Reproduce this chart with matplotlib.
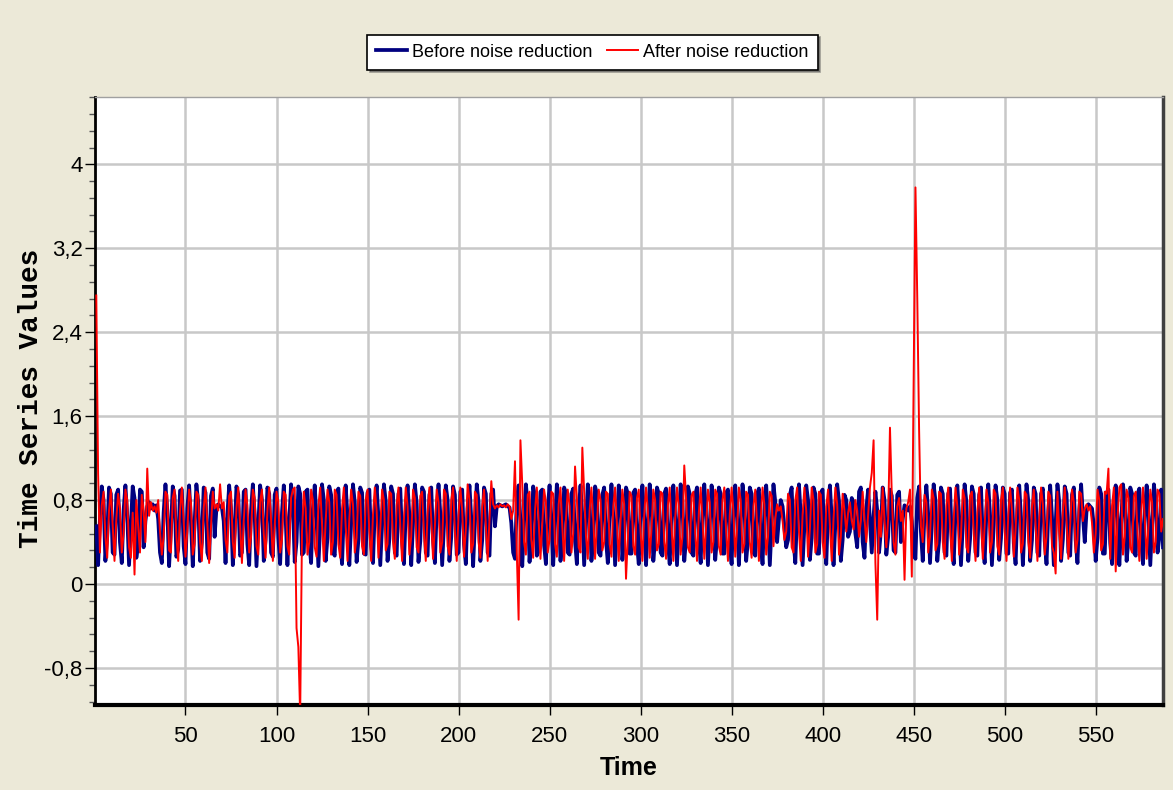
import numpy as np
import matplotlib
matplotlib.use('Agg')
import matplotlib.pyplot as plt
from matplotlib.ticker import MultipleLocator, FuncFormatter, AutoMinorLocator

## data (t = 1..587)
before = [
    0.55, 0.18, 0.62, 0.93, 0.80, 0.22, 0.45, 0.92, 0.86, 0.30,
    0.28, 0.85, 0.90, 0.40, 0.20, 0.70, 0.94, 0.65, 0.18, 0.55,
    0.93, 0.82, 0.25, 0.38, 0.90, 0.88, 0.35, 0.60, 0.74, 0.78,
    0.72, 0.76, 0.70, 0.75, 0.62, 0.30, 0.20, 0.68, 0.95, 0.70,
    0.17, 0.52, 0.93, 0.84, 0.26, 0.33, 0.89, 0.90, 0.36, 0.19,
    0.72, 0.94, 0.60, 0.17, 0.58, 0.95, 0.78, 0.22, 0.40, 0.92,
    0.87, 0.30, 0.24, 0.84, 0.91, 0.45, 0.72, 0.76, 0.74, 0.73,
    0.60, 0.20, 0.66, 0.94, 0.72, 0.18, 0.50, 0.93, 0.85, 0.27,
    0.30, 0.88, 0.90, 0.38, 0.18, 0.70, 0.95, 0.66, 0.17, 0.56,
    0.94, 0.80, 0.22, 0.42, 0.92, 0.86, 0.30, 0.26, 0.85, 0.91,
    0.44, 0.19, 0.68, 0.94, 0.64, 0.18, 0.60, 0.95, 0.76, 0.21,
    0.40, 0.93, 0.86, 0.28, 0.30, 0.88, 0.90, 0.40, 0.20, 0.72,
    0.94, 0.62, 0.17, 0.56, 0.95, 0.80, 0.22, 0.44, 0.93, 0.85,
    0.30, 0.27, 0.86, 0.91, 0.42, 0.19, 0.70, 0.94, 0.64, 0.18,
    0.58, 0.95, 0.78, 0.21, 0.42, 0.92, 0.87, 0.29, 0.28, 0.87,
    0.90, 0.38, 0.20, 0.71, 0.94, 0.63, 0.18, 0.57, 0.95, 0.79,
    0.22, 0.43, 0.93, 0.86, 0.30, 0.27, 0.86, 0.91, 0.41, 0.19,
    0.69, 0.94, 0.65, 0.18, 0.58, 0.95, 0.77, 0.21, 0.41, 0.92,
    0.88, 0.30, 0.27, 0.85, 0.92, 0.42, 0.20, 0.70, 0.95, 0.66,
    0.18, 0.55, 0.94, 0.80, 0.22, 0.45, 0.93, 0.85, 0.28, 0.30,
    0.88, 0.90, 0.38, 0.19, 0.72, 0.94, 0.62, 0.17, 0.58, 0.95,
    0.78, 0.22, 0.42, 0.92, 0.86, 0.30, 0.27, 0.86, 0.90, 0.55,
    0.74, 0.76, 0.75, 0.74, 0.75, 0.76, 0.74, 0.73, 0.58, 0.30,
    0.24, 0.80, 0.94, 0.60, 0.17, 0.60, 0.95, 0.76, 0.21, 0.45,
    0.93, 0.84, 0.27, 0.32, 0.88, 0.90, 0.37, 0.19, 0.72, 0.94,
    0.62, 0.18, 0.58, 0.95, 0.79, 0.22, 0.42, 0.92, 0.87, 0.30,
    0.28, 0.86, 0.91, 0.41, 0.19, 0.70, 0.94, 0.64, 0.18, 0.57,
    0.95, 0.78, 0.22, 0.43, 0.93, 0.86, 0.30, 0.27, 0.85, 0.92,
    0.42, 0.20, 0.70, 0.95, 0.65, 0.18, 0.57, 0.94, 0.80, 0.23,
    0.44, 0.92, 0.86, 0.29, 0.29, 0.87, 0.90, 0.39, 0.19, 0.71,
    0.94, 0.63, 0.18, 0.58, 0.95, 0.79, 0.22, 0.42, 0.92, 0.86,
    0.30, 0.27, 0.86, 0.91, 0.41, 0.19, 0.70, 0.94, 0.64, 0.18,
    0.57, 0.95, 0.78, 0.22, 0.43, 0.93, 0.86, 0.30, 0.27, 0.85,
    0.92, 0.42, 0.20, 0.70, 0.95, 0.65, 0.18, 0.56, 0.94, 0.80,
    0.23, 0.44, 0.92, 0.86, 0.29, 0.29, 0.87, 0.90, 0.39, 0.19,
    0.71, 0.94, 0.63, 0.18, 0.58, 0.95, 0.79, 0.22, 0.42, 0.92,
    0.86, 0.30, 0.27, 0.86, 0.91, 0.41, 0.19, 0.70, 0.94, 0.64,
    0.18, 0.57, 0.95, 0.78, 0.40, 0.62, 0.80, 0.74, 0.55, 0.35,
    0.42, 0.85, 0.92, 0.42, 0.20, 0.70, 0.95, 0.65, 0.18, 0.56,
    0.94, 0.80, 0.23, 0.44, 0.92, 0.86, 0.29, 0.29, 0.87, 0.90,
    0.39, 0.19, 0.71, 0.94, 0.63, 0.18, 0.58, 0.95, 0.79, 0.22,
    0.42, 0.85, 0.80, 0.45, 0.50, 0.82, 0.78, 0.48, 0.35, 0.88,
    0.92, 0.40, 0.25, 0.72, 0.90, 0.60, 0.30, 0.65, 0.88, 0.70,
    0.30, 0.50, 0.92, 0.80, 0.28, 0.45, 0.90, 0.84, 0.32, 0.30,
    0.85, 0.88, 0.40, 0.62, 0.75, 0.72, 0.70, 0.74, 0.60, 0.30,
    0.24, 0.82, 0.93, 0.50, 0.22, 0.70, 0.94, 0.66, 0.20, 0.58,
    0.95, 0.79, 0.22, 0.42, 0.92, 0.86, 0.30, 0.27, 0.86, 0.91,
    0.41, 0.19, 0.70, 0.94, 0.64, 0.18, 0.57, 0.95, 0.78, 0.22,
    0.43, 0.93, 0.86, 0.30, 0.27, 0.85, 0.92, 0.42, 0.20, 0.70,
    0.95, 0.65, 0.18, 0.56, 0.94, 0.80, 0.23, 0.44, 0.92, 0.86,
    0.29, 0.29, 0.87, 0.90, 0.39, 0.19, 0.71, 0.94, 0.63, 0.18,
    0.58, 0.95, 0.79, 0.22, 0.42, 0.92, 0.86, 0.30, 0.27, 0.86,
    0.91, 0.41, 0.19, 0.70, 0.94, 0.64, 0.18, 0.57, 0.95, 0.78,
    0.22, 0.43, 0.93, 0.86, 0.30, 0.27, 0.85, 0.92, 0.42, 0.20,
    0.70, 0.95, 0.65, 0.40, 0.70, 0.76, 0.74, 0.72, 0.55, 0.22,
    0.44, 0.92, 0.86, 0.29, 0.29, 0.87, 0.90, 0.39, 0.19, 0.71,
    0.94, 0.63, 0.18, 0.58, 0.95, 0.79, 0.22, 0.42, 0.92, 0.86,
    0.30, 0.27, 0.86, 0.91, 0.41, 0.19, 0.70, 0.94, 0.64, 0.18,
    0.57, 0.95, 0.78, 0.30, 0.45, 0.90, 0.35,
]

after = [
    2.75, 1.05, 0.30, 0.75, 0.88, 0.45, 0.25, 0.70, 0.90, 0.55,
    0.22, 0.62, 0.86, 0.72, 0.30, 0.48, 0.90, 0.80, 0.35, 0.25,
    0.68, 0.09, 0.80, 0.55, 0.30, 0.85, 0.70, 0.40, 1.10, 0.65,
    0.78, 0.70, 0.74, 0.68, 0.80, 0.50, 0.28, 0.45, 0.88, 0.85,
    0.32, 0.30, 0.82, 0.90, 0.45, 0.22, 0.70, 0.92, 0.60, 0.26,
    0.50, 0.90, 0.78, 0.28, 0.38, 0.88, 0.85, 0.40, 0.22, 0.72,
    0.92, 0.58, 0.20, 0.55, 0.88, 0.72, 0.76, 0.70, 0.95, 0.72,
    0.78, 0.42, 0.30, 0.84, 0.88, 0.40, 0.25, 0.72, 0.92, 0.55,
    0.20, 0.60, 0.90, 0.75, 0.30, 0.45, 0.90, 0.82, 0.36, 0.28,
    0.78, 0.90, 0.48, 0.25, 0.70, 0.92, 0.62, 0.22, 0.55, 0.88,
    0.78, 0.30, 0.42, 0.88, 0.85, 0.36, 0.28, 0.82, 0.90, 0.92,
    -0.42, -0.60, -1.25, 0.50, 0.88, 0.72, 0.28, 0.40, 0.90, 0.80,
    0.35, 0.26, 0.75, 0.92, 0.58, 0.22, 0.60, 0.90, 0.78, 0.28,
    0.40, 0.90, 0.85, 0.38, 0.25, 0.72, 0.92, 0.55, 0.22, 0.62,
    0.90, 0.76, 0.30, 0.44, 0.88, 0.84, 0.36, 0.28, 0.80, 0.90,
    0.50, 0.22, 0.66, 0.92, 0.70, 0.25, 0.52, 0.90, 0.80, 0.32,
    0.38, 0.88, 0.86, 0.40, 0.24, 0.75, 0.92, 0.55, 0.22, 0.62,
    0.92, 0.74, 0.28, 0.45, 0.90, 0.82, 0.35, 0.30, 0.84, 0.88,
    0.48, 0.22, 0.68, 0.92, 0.62, 0.24, 0.55, 0.90, 0.78, 0.30,
    0.40, 0.90, 0.86, 0.36, 0.28, 0.80, 0.92, 0.50, 0.22, 0.66,
    0.92, 0.70, 0.26, 0.52, 0.95, 0.80, 0.30, 0.38, 0.88, 0.85,
    0.40, 0.25, 0.74, 0.90, 0.55, 0.22, 0.62, 0.98, 0.76, 0.72,
    0.75, 0.73, 0.76, 0.74, 0.75, 0.73, 0.76, 0.74, 0.62, 0.70,
    1.17, 0.30, -0.34, 1.37, 0.95, 0.40, 0.28, 0.85, 0.88, 0.42,
    0.25, 0.70, 0.92, 0.60, 0.24, 0.58, 0.90, 0.78, 0.30, 0.42,
    0.88, 0.86, 0.38, 0.26, 0.76, 0.92, 0.55, 0.22, 0.62, 0.90,
    0.74, 0.30, 0.48, 1.12, 0.82, 0.35, 0.30, 1.30, 0.88, 0.46,
    0.24, 0.70, 0.92, 0.62, 0.24, 0.56, 0.90, 0.80, 0.32, 0.40,
    0.88, 0.86, 0.38, 0.26, 0.74, 0.92, 0.58, 0.22, 0.60, 0.90,
    0.76, 0.05, 0.44, 0.88, 0.84, 0.36, 0.28, 0.82, 0.90, 0.50,
    0.22, 0.66, 0.92, 0.70, 0.25, 0.52, 0.90, 0.80, 0.32, 0.38,
    0.88, 0.86, 0.40, 0.24, 0.75, 0.92, 0.55, 0.22, 0.62, 0.92,
    0.74, 0.28, 0.45, 1.13, 0.82, 0.35, 0.30, 0.84, 0.88, 0.48,
    0.22, 0.68, 0.92, 0.62, 0.24, 0.55, 0.90, 0.78, 0.30, 0.40,
    0.90, 0.86, 0.36, 0.28, 0.80, 0.92, 0.50, 0.22, 0.66, 0.92,
    0.70, 0.26, 0.52, 0.92, 0.80, 0.30, 0.38, 0.88, 0.85, 0.40,
    0.25, 0.74, 0.90, 0.55, 0.22, 0.62, 0.92, 0.76, 0.28, 0.45,
    0.88, 0.84, 0.36, 0.62, 0.76, 0.70, 0.74, 0.60, 0.42, 0.50,
    0.86, 0.80, 0.35, 0.30, 0.80, 0.92, 0.50, 0.22, 0.66, 0.92,
    0.70, 0.26, 0.52, 0.92, 0.80, 0.30, 0.38, 0.88, 0.85, 0.40,
    0.25, 0.74, 0.90, 0.55, 0.22, 0.62, 0.92, 0.76, 0.28, 0.45,
    0.86, 0.70, 0.50, 0.68, 0.78, 0.60, 0.52, 0.80, 0.70, 0.45,
    0.60, 0.88, 0.62, 0.40, 0.66, 0.92, 1.06, 1.37, 0.20, -0.34,
    0.70, 0.45, 0.92, 0.60, 0.35, 0.62, 1.49, 0.85, 0.40, 0.28,
    0.74, 0.82, 0.60, 0.70, 0.04, 0.72, 0.78, 0.90, 0.07, 1.90,
    3.78, 2.72, 1.47, 0.55, 0.40, 0.85, 0.78, 0.30, 0.45, 0.90,
    0.82, 0.32, 0.38, 0.88, 0.86, 0.40, 0.24, 0.75, 0.92, 0.55,
    0.22, 0.62, 0.92, 0.74, 0.28, 0.45, 0.90, 0.82, 0.35, 0.30,
    0.84, 0.88, 0.48, 0.22, 0.68, 0.92, 0.62, 0.24, 0.55, 0.90,
    0.78, 0.30, 0.40, 0.90, 0.86, 0.36, 0.28, 0.80, 0.92, 0.50,
    0.22, 0.66, 0.92, 0.70, 0.26, 0.52, 0.92, 0.80, 0.30, 0.38,
    0.88, 0.85, 0.40, 0.25, 0.74, 0.90, 0.55, 0.22, 0.62, 0.92,
    0.76, 0.28, 0.45, 0.88, 0.84, 0.36, 0.30, 0.10, 0.88, 0.50,
    0.24, 0.70, 0.92, 0.60, 0.24, 0.58, 0.90, 0.78, 0.30, 0.42,
    0.88, 0.86, 0.60, 0.72, 0.76, 0.70, 0.74, 0.58, 0.30, 0.48,
    0.90, 0.80, 0.32, 0.38, 0.88, 0.86, 1.10, 0.24, 0.75, 0.92,
    0.12, 0.62, 0.92, 0.95, 0.28, 0.45, 0.90, 0.82, 0.35, 0.30,
    0.84, 0.88, 0.48, 0.22, 0.68, 0.92, 0.62, 0.24, 0.55, 0.90,
    0.78, 0.30, 0.40, 0.90, 0.86, 0.50, 0.62,
]

time = np.arange(1, len(before) + 1)

x_ticks = [50, 100, 150, 200, 250, 300, 350, 400, 450, 500, 550]
y_ticks = [-0.8, 0, 0.8, 1.6, 2.4, 3.2, 4]

bg = '#ECE9D8'
sans = ['Liberation Sans', 'DejaVu Sans']

fig = plt.figure(figsize=(11.73, 7.9), dpi=100, facecolor=bg)
ax = fig.add_axes([0.081, 0.108, 0.9105, 0.769])
ax.set_facecolor('white')

ax.plot(time, before, color='#000080', lw=2.7, label='Before noise reduction', zorder=3)
ax.plot(time, after, color='#FF0000', lw=1.4, label='After noise reduction', zorder=4)

ax.set_xlim(0.3, 587)
ax.set_ylim(-1.15, 4.64)
ax.set_xticks(x_ticks)
ax.set_yticks(y_ticks)
ax.yaxis.set_minor_locator(AutoMinorLocator(5))
ax.yaxis.set_major_formatter(FuncFormatter(lambda v, p: ('%g' % v).replace('.', ',')))
ax.grid(True, which='major', color='#C8C8C8', lw=1.8, zorder=0)

ax.tick_params(axis='both', which='major', direction='out', length=7, width=1, colors='black', labelsize=16)
ax.tick_params(axis='y', which='major', pad=2)
ax.tick_params(axis='x', which='major', pad=8)
ax.tick_params(axis='y', which='minor', direction='out', length=4, width=1, colors='#555555')
for lab in ax.get_xticklabels() + ax.get_yticklabels():
    lab.set_family(sans)

ax.spines['left'].set_linewidth(2)
ax.spines['bottom'].set_linewidth(3)
ax.spines['top'].set_color('#A0A0A0')
ax.spines['top'].set_linewidth(1)
ax.spines['right'].set_color('#404040')
ax.spines['right'].set_linewidth(2.5)

ax.set_xlabel('Time', family=sans, fontsize=18, fontweight='bold')
ax.xaxis.set_label_coords(0.5, -0.085)
ax.set_ylabel('Time Series Values', family=['Liberation Mono', 'DejaVu Sans Mono'],
              fontsize=20, fontweight='bold')
ax.yaxis.set_label_coords(-0.048, 0.505)

leg = fig.legend(loc='center', bbox_to_anchor=(0.505, 0.934), ncol=2, frameon=True,
                 fancybox=False, shadow=True, prop={'family': sans, 'size': 13},
                 handlelength=1.7, handletextpad=0.3, columnspacing=0.8,
                 borderpad=0.5, edgecolor='black')
leg.get_frame().set_linewidth(1.2)

fig.savefig('out.png', dpi=100, facecolor=bg)
